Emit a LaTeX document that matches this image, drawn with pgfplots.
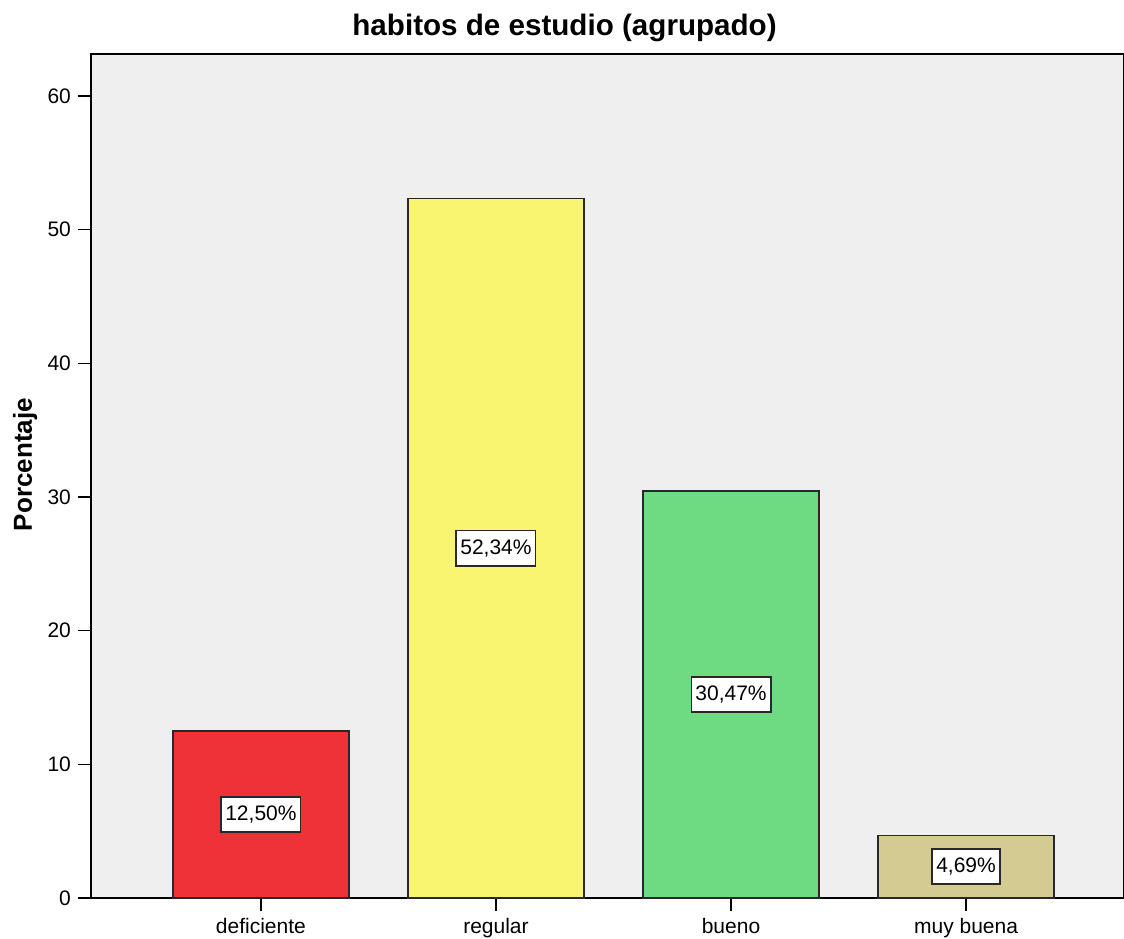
\documentclass[border=0pt]{standalone}
\usepackage{pgfplots}
\pgfplotsset{compat=1.18}
\usepackage{fontspec}
\setmainfont{Liberation Sans}
\definecolor{cRed}{RGB}{239,50,56}
\definecolor{cYellow}{RGB}{250,245,112}
\definecolor{cGreen}{RGB}{110,218,130}
\definecolor{cTan}{RGB}{211,203,145}
\definecolor{bgGray}{RGB}{239,239,239}
\definecolor{edge}{RGB}{40,40,40}
\begin{document}
\begin{tikzpicture}
\useasboundingbox (-45.5pt,-20pt) rectangle (516.5pt,449pt);
\begin{axis}[
  at={(0,0)}, anchor=south west,
  scale only axis,
  width=516.5pt, height=422pt,
  xmin=-0.723, xmax=3.672,
  ymin=0, ymax=63.14,
  xtick={0,1,2,3},
  xticklabels={deficiente,regular,bueno,muy buena},
  ytick={0,10,20,30,40,50,60},
  tick align=outside,
  major tick length=6.5pt,
  tick style={black, line width=0.7pt},
  xtick pos=bottom, ytick pos=left,
  axis line style={black, line width=0.8pt},
  axis background/.style={fill=bgGray},
  /pgf/number format/assume math mode=true,
  tick label style={font=\fontsize{10.5}{12}\selectfont},
  title={habitos de estudio (agrupado)},
  title style={font=\bfseries\fontsize{14.8}{17}\selectfont, at={(axis description cs:0.4584,1)}, anchor=base, yshift=3pt},
  ylabel={Porcentaje},
  ylabel style={font=\bfseries\fontsize{13}{15}\selectfont, at={(axis description cs:0,0.5136)}, anchor=base, yshift=29.5pt},
  clip=false,
]
\addplot[ybar, bar width=0.749, bar shift=0pt, fill=cRed, draw=edge, line width=0.8pt] coordinates {(0,12.50)};
\addplot[ybar, bar width=0.749, bar shift=0pt, fill=cYellow, draw=edge, line width=0.8pt] coordinates {(1,52.34)};
\addplot[ybar, bar width=0.749, bar shift=0pt, fill=cGreen, draw=edge, line width=0.8pt] coordinates {(2,30.47)};
\addplot[ybar, bar width=0.749, bar shift=0pt, fill=cTan, draw=edge, line width=0.8pt] coordinates {(3,4.69)};
\addplot[only marks, mark=*, mark options={draw=none, fill=none},
  point meta=explicit symbolic,
  nodes near coords,
  every node near coord/.style={anchor=center, draw=edge, line width=0.9pt, fill=white, inner xsep=2pt, inner ysep=4.5pt, font=\fontsize{10.5}{12}\selectfont}]
  coordinates {(0,6.25) [12,50\%] (1,26.17) [52,34\%] (2,15.235) [30,47\%] (3,2.345) [4,69\%]};
\end{axis}
\end{tikzpicture}
\end{document}
